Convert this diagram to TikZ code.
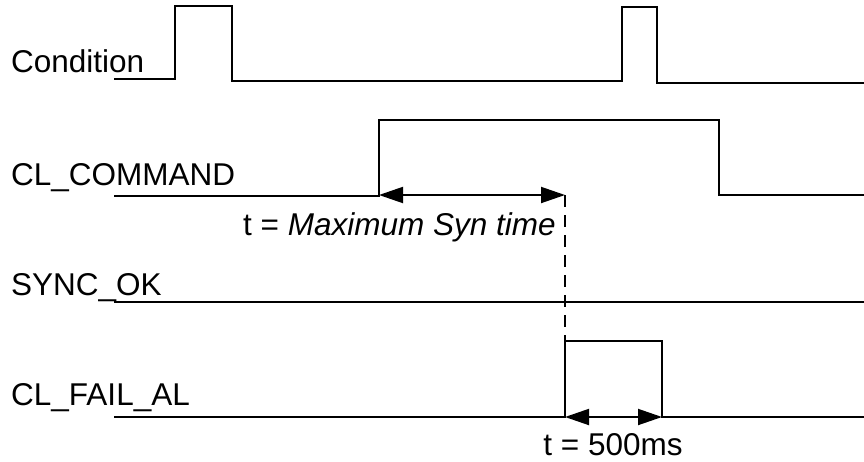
\documentclass[tikz,border=0pt]{standalone}
\usepackage{fontspec}
\setmainfont{Liberation Sans}
\usetikzlibrary{arrows.meta}
\begin{document}
\begin{tikzpicture}[x=1pt,y=-1pt,
  sig/.style={line width=1.9pt,line join=miter},
  lbl/.style={inner sep=0pt,anchor=base west,font=\fontsize{31.5}{36}\selectfont},
  dim/.style={line width=1.9pt,{Triangle[length=24pt,width=16pt]}-{Triangle[length=24pt,width=16pt]}},
  guide/.style={line width=1.4pt,dash pattern=on 12pt off 8pt}]
\useasboundingbox (0,0) rectangle (864,461);
% labels
\node[lbl] (lcond) at (11,72) {Condition};
\node[lbl] (lcmd) at (11,185) {CL\_COMMAND};
\node[lbl] (lsync) at (11,295) {SYNC\_OK};
\node[lbl] (lfail) at (11,405) {CL\_FAIL\_AL};
\node[lbl] (tmax) at (243,235) {t = \textit{Maximum Syn time}};
\node[lbl,anchor=base] (t500) at (613,455) {t = 500ms};
% Condition
\coordinate (c0) at (114,79);
\coordinate (c1) at (175,79);
\coordinate (c2) at (175,6);
\coordinate (c3) at (232,6);
\coordinate (c4) at (232,81);
\coordinate (c5) at (622,81);
\coordinate (c6) at (622,7);
\coordinate (c7) at (657,7);
\coordinate (c8) at (657,83);
\coordinate (c9) at (864,83);
\draw[sig] (c0) -- (c1) -- (c2) -- (c3) -- (c4) -- (c5) -- (c6) -- (c7) -- (c8) -- (c9);
% CL_COMMAND
\coordinate (m0) at (114,196);
\coordinate (m1) at (379,196);
\coordinate (m2) at (379,120);
\coordinate (m3) at (719,120);
\coordinate (m4) at (719,195);
\coordinate (m5) at (864,195);
\draw[sig] (m0) -- (m1) -- (m2) -- (m3) -- (m4) -- (m5);
% SYNC_OK
\coordinate (s0) at (114,302);
\coordinate (s1) at (864,302);
\draw[sig] (s0) -- (s1);
% CL_FAIL_AL
\coordinate (f0) at (114,417);
\coordinate (f1) at (565,417);
\coordinate (f2) at (565,341);
\coordinate (f3) at (662,341);
\coordinate (f4) at (662,417);
\coordinate (f5) at (864,417);
\draw[sig] (f0) -- (f1) -- (f2) -- (f3) -- (f4) -- (f5);
% timing marks
\coordinate (a0) at (379,195);
\coordinate (a1) at (565,195);
\draw[dim] (a0) -- (a1);
\draw[guide] (a1) -- (f2);
\draw[dim] (f1) -- (f4);
\end{tikzpicture}
\end{document}
